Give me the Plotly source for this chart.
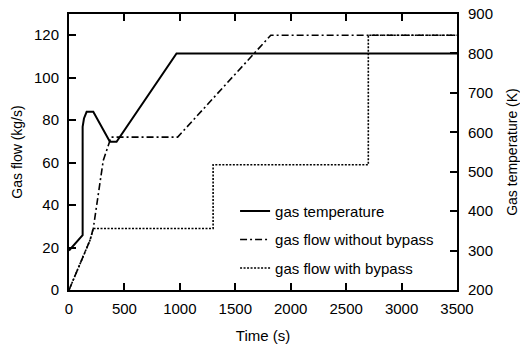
import plotly.graph_objects as go

# Gas temperature (K), right axis
temp_t = [0, 123, 123, 135, 159, 219, 369, 429, 970, 3500]
temp_v = [300, 339, 614, 635, 652, 652, 576, 576, 800, 800]

# Gas flow without bypass (kg/s), left axis
nobyp_t = [0, 100, 190, 219, 309, 380, 980, 1820, 3500]
nobyp_v = [0, 12, 23.5, 29, 61, 72, 72, 120, 120]

# Gas flow with bypass (kg/s), left axis
byp_t = [0, 100, 190, 219, 1300, 1300, 2700, 2700, 3500]
byp_v = [0, 12, 23.5, 29, 29, 59, 59, 120, 120]

x_ticks = [0, 500, 1000, 1500, 2000, 2500, 3000, 3500]
y_ticks = [0, 20, 40, 60, 80, 100, 120]
y2_ticks = [200, 300, 400, 500, 600, 700, 800, 900]

FONT = "Liberation Sans, Arial, sans-serif"

fig = go.Figure()
fig.add_trace(go.Scatter(x=temp_t, y=temp_v, yaxis="y2", mode="lines",
                         name="gas temperature", legendgroup="a",
                         line=dict(color="black", width=2)))
fig.add_trace(go.Scatter(x=nobyp_t, y=nobyp_v, mode="lines",
                         name="gas flow without bypass", legendgroup="b",
                         line=dict(color="black", width=1.6, dash="7px,3px,2px,3px")))
fig.add_trace(go.Scatter(x=byp_t, y=byp_v, mode="lines",
                         name="gas flow with bypass", legendgroup="c",
                         line=dict(color="black", width=1.6, dash="2px,1.5px")))

axis_common = dict(showline=True, linecolor="black", linewidth=2,
                   ticks="inside", ticklen=7, tickwidth=2, tickcolor="black",
                   showgrid=False, zeroline=False, automargin=False,
                   tickfont=dict(family=FONT, size=15, color="black"))

fig.update_layout(
    width=520, height=344,
    margin=dict(l=69, r=63, t=14, b=54),
    paper_bgcolor="white", plot_bgcolor="white",
    font=dict(family=FONT, size=15, color="black"),
    showlegend=True,
    legend=dict(x=0.428, y=0.345, xanchor="left", yanchor="top",
                bgcolor="rgba(0,0,0,0)", borderwidth=0,
                traceorder="grouped", tracegroupgap=6,
                font=dict(family=FONT, size=15, color="black")),
    xaxis=dict(range=[0, 3500], tickvals=x_ticks, mirror="ticks",
               ticklabelstandoff=4,
               title=dict(text="Time (s)", font=dict(family=FONT, size=15), standoff=14),
               **axis_common),
    yaxis=dict(range=[0, 130], tickvals=y_ticks, mirror=True,
               ticklabelstandoff=5,
               title=dict(text="Gas flow (kg/s)", font=dict(family=FONT, size=14),
                          standoff=8),
               **axis_common),
    yaxis2=dict(range=[200, 900], tickvals=y2_ticks, overlaying="y", side="right",
                ticklabelstandoff=6,
                title=dict(text="Gas temperature (K)", font=dict(family=FONT, size=14),
                           standoff=18),
                **axis_common),
)

fig.write_html("out.html")
